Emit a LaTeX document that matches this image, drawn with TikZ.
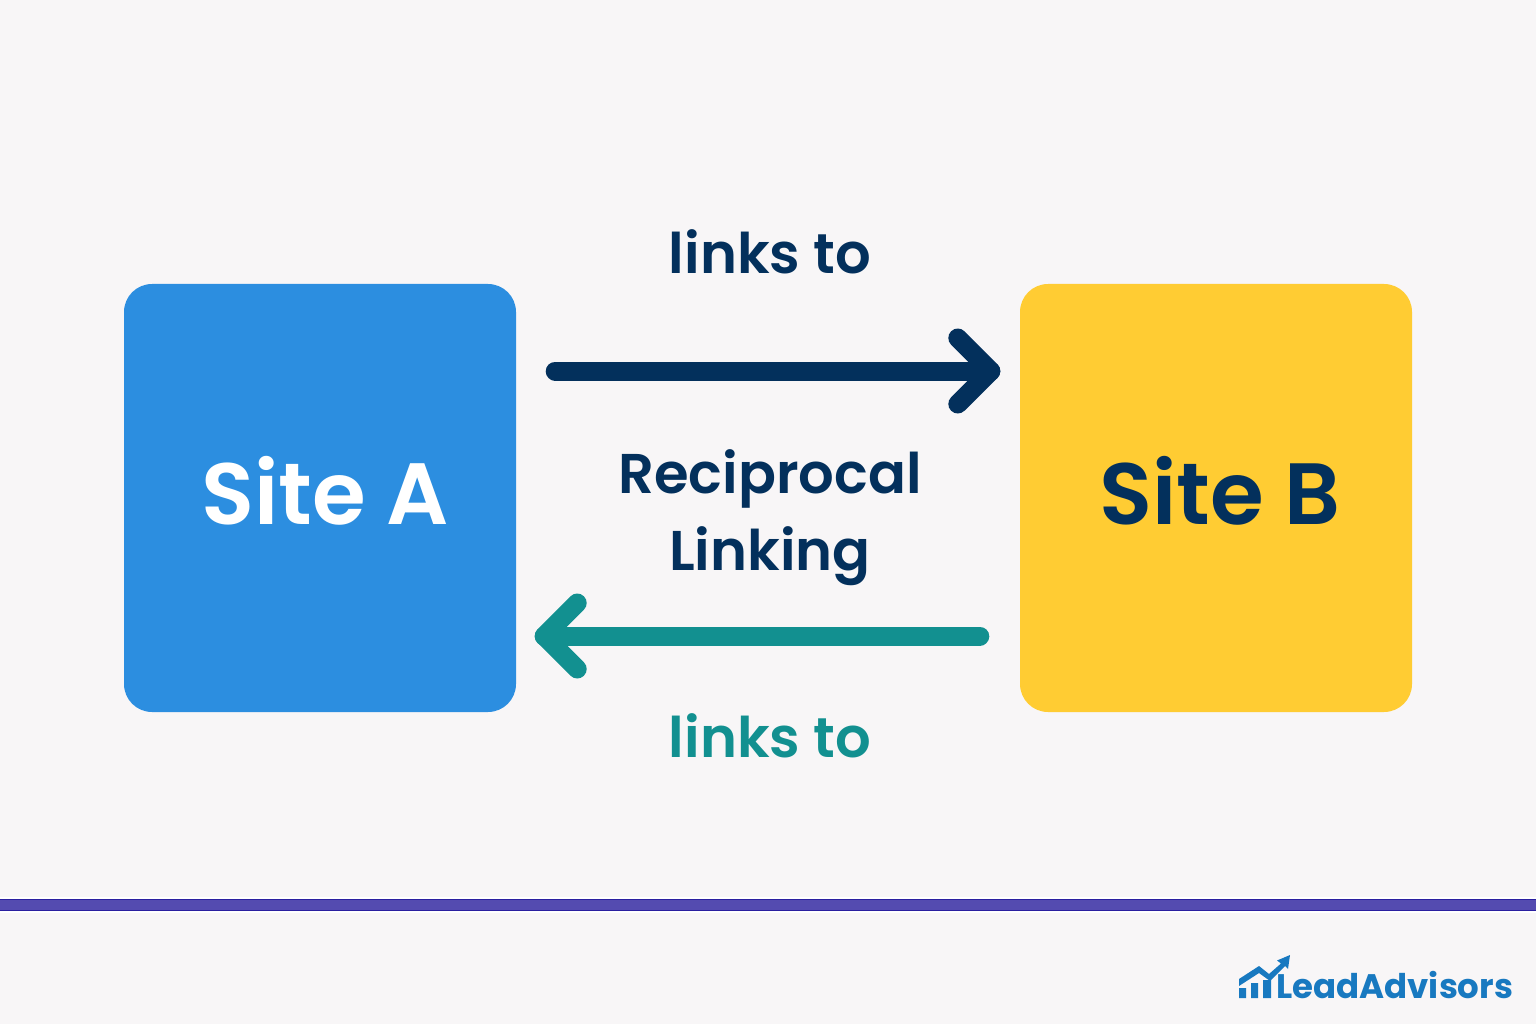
\documentclass[tikz,border=0pt]{standalone}
\usepackage{fontspec}
\newfontfamily\labf{Poppins SemiBold}
\newfontfamily\logof{Poppins Bold}
\definecolor{bgc}{HTML}{F8F6F7}
\definecolor{navy}{HTML}{03305C}
\definecolor{tealc}{HTML}{129090}
\definecolor{bluec}{HTML}{2C8EE0}
\definecolor{yellowc}{HTML}{FFCC33}
\definecolor{rulec}{HTML}{544BB0}
\definecolor{ruleb}{HTML}{2A1FA0}
\definecolor{logoc}{HTML}{1879C0}
\tikzset{
 x=1pt,y=-1pt,
 site/.style={minimum width=392pt,minimum height=428pt,rounded corners=28pt,inner sep=0pt},
 sitetext/.style={font=\labf\fontsize{87}{87}\selectfont,anchor=base,inner sep=0pt},
 lab/.style={font=\labf\fontsize{56}{77}\selectfont,anchor=base,inner sep=0pt,text=navy},
 conn/.style={line width=19pt,line cap=round,line join=round},
}
\begin{document}
\begin{tikzpicture}
\useasboundingbox (0,0) rectangle (1536,1024);
\fill[bgc] (0,0) rectangle (1536,1024);
\node[site,fill=bluec] (a) at (320,498) {};
\node[site,fill=yellowc] (b) at (1216,498) {};
\node[sitetext,text=white] (at) at (325,524) {Site A};
\node[sitetext,text=navy] (bt) at (1220,524) {Site B};
\node[lab] (t1) at (770,274) {links to};
\node[lab] (m1) at (770,493) {Reciprocal};
\node[lab] (m2) at (770,570) {Linking};
\node[lab,text=tealc] (t2) at (770,757) {links to};
\coordinate (s1) at ([shift={(39,-127)}]a.east);
\coordinate (e1) at ([shift={(-29,-127)}]b.west);
\coordinate (s2) at ([shift={(-40,138)}]b.west);
\coordinate (e2) at ([shift={(28,138)}]a.east);
\draw[conn,navy] (s1) -- (e1);
\draw[conn,navy] ([shift={(-33,-33)}]e1) -- (e1) -- ([shift={(-33,33)}]e1);
\draw[conn,tealc] (s2) -- (e2);
\draw[conn,tealc] ([shift={(33,-33)}]e2) -- (e2) -- ([shift={(33,33)}]e2);
\fill[white] (0,897) rectangle (1536,913);
\fill[ruleb] (0,899) rectangle (1536,911);
\fill[rulec] (0,900) rectangle (1536,910);
\node[font=\logof\fontsize{34}{34}\selectfont,text=logoc,anchor=base west,inner sep=0pt] (logo) at (1276,998) {LeadAdvisors};
\fill[logoc] (1239,988) rectangle (1246,998) (1251,983) rectangle (1258,998) (1263,980) rectangle (1271,998);
\fill[logoc] (1239,979) -- (1259,966) -- (1269,974) -- (1281,963.5) -- (1277,960.5) -- (1290,955) -- (1288,969) -- (1285,966) -- (1270,981) -- (1259,973) -- (1239,986) -- cycle;
\end{tikzpicture}
\end{document}
